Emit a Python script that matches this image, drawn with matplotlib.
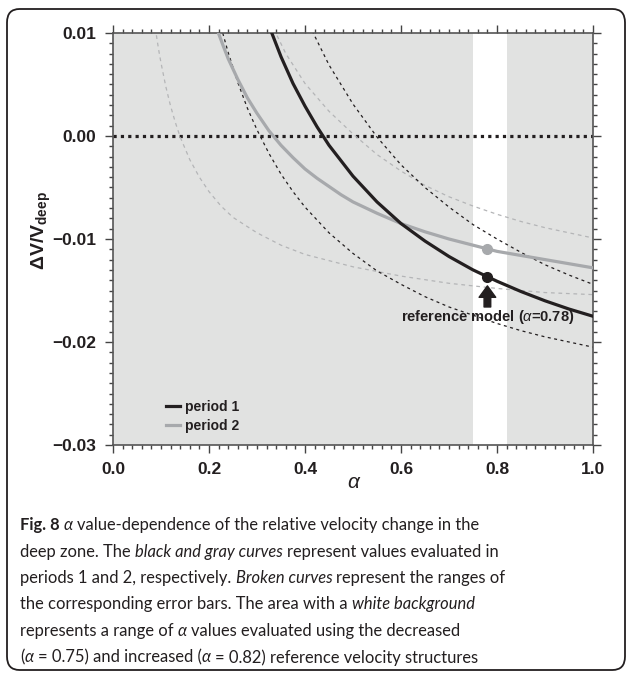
import matplotlib
matplotlib.use('Agg')
import matplotlib.pyplot as plt
from matplotlib import font_manager
from matplotlib.patches import FancyBboxPatch
from matplotlib.ticker import MultipleLocator

# period 1 (black) and period 2 (gray) curves
p1_alpha = [0.33, 0.35, 0.375, 0.40, 0.425, 0.45, 0.50, 0.55, 0.60, 0.65, 0.70, 0.75, 0.80, 0.85,
            0.90, 0.95, 1.00]
p1_dv = [0.0101, 0.0077, 0.0051, 0.0029, 0.0009, -0.0009, -0.0039, -0.0064, -0.0085, -0.0102,
         -0.0117, -0.0130, -0.0141, -0.0151, -0.0160, -0.0168, -0.0175]

p2_alpha = [0.218, 0.23, 0.24, 0.26, 0.28, 0.30, 0.325, 0.35, 0.375, 0.40, 0.425, 0.45, 0.475,
            0.50, 0.55, 0.60, 0.65, 0.70, 0.75, 0.80, 0.85, 0.90, 0.95, 1.00]
p2_dv = [0.0102, 0.0087, 0.0075, 0.0055, 0.0037, 0.0022, 0.0005, -0.0009, -0.0021, -0.0032,
         -0.0041, -0.0049, -0.0057, -0.0064, -0.0075, -0.0085, -0.0093, -0.0100, -0.0106,
         -0.0112, -0.0116, -0.0120, -0.0124, -0.0128]

# error-bar ranges (broken curves)
p1_lo_alpha = [0.225, 0.24, 0.26, 0.28, 0.30, 0.325, 0.35, 0.375, 0.40, 0.45, 0.50, 0.55, 0.60,
               0.65, 0.70, 0.75, 0.80, 0.85, 0.90, 0.95, 1.00]
p1_lo_dv = [0.0106, 0.0081, 0.0052, 0.0027, 0.0006, -0.0017, -0.0037, -0.0054, -0.0069, -0.0094,
            -0.0114, -0.0131, -0.0144, -0.0156, -0.0166, -0.0174, -0.0182, -0.0189, -0.0195,
            -0.0200, -0.0205]

p1_hi_alpha = [0.415, 0.45, 0.50, 0.55, 0.60, 0.65, 0.70, 0.75, 0.80, 0.85, 0.90, 0.95, 1.00]
p1_hi_dv = [0.0102, 0.0069, 0.0031, -0.0001, -0.0028, -0.0050, -0.0069, -0.0086, -0.0100, -0.0113,
            -0.0125, -0.0135, -0.0144]

p2_lo_alpha = [0.088, 0.095, 0.10, 0.11, 0.12, 0.13, 0.14, 0.16, 0.18, 0.20, 0.225, 0.25, 0.30,
               0.35, 0.40, 0.50, 0.60, 0.70, 0.80, 0.90, 1.00]
p2_lo_dv = [0.0105, 0.0084, 0.0071, 0.0048, 0.0029, 0.0013, -0.0001, -0.0023, -0.0040, -0.0054,
            -0.0068, -0.0079, -0.0094, -0.0106, -0.0115, -0.0127, -0.0136, -0.0143, -0.0148,
            -0.0152, -0.0154]

p2_hi_alpha = [0.335, 0.36, 0.40, 0.45, 0.50, 0.55, 0.60, 0.65, 0.70, 0.75, 0.80, 0.85, 0.90, 0.95, 1.00]
p2_hi_dv = [0.0104, 0.0080, 0.0051, 0.0024, 0.0002, -0.0018, -0.0034, -0.0048, -0.0059, -0.0068,
            -0.0076, -0.0083, -0.0089, -0.0094, -0.0099]

# reference model and the white band
ref_alpha = 0.78
ref_p1 = -0.0137
ref_p2 = -0.0110
band = (0.75, 0.82)

x_ticks = [0.0, 0.2, 0.4, 0.6, 0.8, 1.0]
x_ticklabels = ['0.0', '0.2', '0.4', '0.6', '0.8', '1.0']
y_ticks = [-0.03, -0.02, -0.01, 0.00, 0.01]
y_ticklabels = ['\u22120.03', '\u22120.02', '\u22120.01', '0.00', '0.01']

caption_lines = [
    [('b', 'Fig. 8'), ('i', ' α'), ('r', ' value-dependence of the relative velocity change in the')],
    [('r', 'deep zone. The '), ('i', 'black and gray curves'), ('r', ' represent values evaluated in')],
    [('r', 'periods 1 and 2, respectively. '), ('i', 'Broken curves'), ('r', ' represent the ranges of')],
    [('r', 'the corresponding error bars. The area with a '), ('i', 'white background')],
    [('r', 'represents a range of '), ('i', 'α'), ('r', ' values evaluated using the decreased')],
    [('r', '('), ('i', 'α'), ('r', ' = 0.75) and increased ('), ('i', 'α'),
     ('r', ' = 0.82) reference velocity structures')],
]

dark = '#231f20'
plt.rcParams['font.family'] = ['Liberation Sans', 'DejaVu Sans']
plt.rcParams['mathtext.fontset'] = 'custom'
plt.rcParams['mathtext.rm'] = 'Liberation Sans'
plt.rcParams['mathtext.it'] = 'Liberation Sans:italic'
plt.rcParams['mathtext.bf'] = 'Liberation Sans:bold'

W, H = 627, 676
fig = plt.figure(figsize=(W / 100, H / 100), dpi=100)
ax = fig.add_axes([113 / W, 1 - 445 / H, 480 / W, 412 / H])
ax.set_facecolor('#e1e2e1')
ax.axvspan(band[0], band[1], color='white', lw=0, zorder=0.5)

ax.axhline(0, color=dark, lw=2.3, linestyle=(0, (1.0, 1.3)), zorder=2)

dash_k = (0, (2.4, 2.8))
dash_g = (0, (3.0, 3.0))
ax.plot(p2_lo_alpha, p2_lo_dv, color='#b4b5b7', lw=0.9, linestyle=dash_g, zorder=2)
ax.plot(p2_hi_alpha, p2_hi_dv, color='#b4b5b7', lw=0.9, linestyle=dash_g, zorder=2)
ax.plot(p1_lo_alpha, p1_lo_dv, color=dark, lw=0.9, linestyle=dash_k, zorder=2)
ax.plot(p1_hi_alpha, p1_hi_dv, color=dark, lw=0.9, linestyle=dash_k, zorder=2)

ax.plot(p2_alpha, p2_dv, color='#a7a9ac', lw=2.3, label='period 2', zorder=3)
ax.plot(p1_alpha, p1_dv, color=dark, lw=2.3, label='period 1', zorder=4)
ax.plot([ref_alpha], [ref_p2], 'o', color='#a7a9ac', ms=7, zorder=5)
ax.plot([ref_alpha], [ref_p1], 'o', color=dark, ms=7, zorder=5)

ax.annotate('', xy=(ref_alpha, -0.01455), xytext=(ref_alpha, -0.0166),
            arrowprops=dict(arrowstyle='simple,head_length=0.55,head_width=0.8,tail_width=0.32',
                            color=dark, shrinkA=0, shrinkB=0, mutation_scale=15))
ax.text(ref_alpha, -0.0176, r'reference model ($\alpha$=0.78)', ha='center', va='center',
        fontsize=10.5, fontweight='bold', color=dark)

ax.set_xlim(0, 1)
ax.set_ylim(-0.03, 0.01)
ax.set_xticks(x_ticks)
ax.set_xticklabels(x_ticklabels)
ax.set_yticks(y_ticks)
ax.set_yticklabels(y_ticklabels)
ax.xaxis.set_minor_locator(MultipleLocator(0.02))
ax.yaxis.set_minor_locator(MultipleLocator(0.001))
ax.tick_params(which='both', direction='out', top=True, right=True, color='#444444', width=1.0)
ax.tick_params(which='major', length=6, pad=6, labelsize=12.5, labelcolor=dark)
ax.tick_params(which='minor', length=3)
ax.tick_params(labelright=False, labeltop=False)
for lab in ax.get_xticklabels() + ax.get_yticklabels():
    lab.set_fontweight('bold')
for sp in ax.spines.values():
    sp.set_color('#555555')
    sp.set_linewidth(1.2)

ax.set_ylabel(r'ΔV/V$_{\mathbf{deep}}$', fontsize=14, fontweight='bold', color=dark)
ax.yaxis.set_label_coords(-0.125, 0.52)
ax.set_xlabel('α', fontsize=15, fontstyle='italic', color=dark)
ax.xaxis.set_label_coords(0.5, -0.068)

handles, labels = ax.get_legend_handles_labels()
leg = ax.legend(handles[::-1], labels[::-1], loc='lower left', bbox_to_anchor=(0.110, 0.03),
                frameon=False, handlelength=1.0, handletextpad=0.4, borderpad=0,
                borderaxespad=0, labelspacing=0.35, prop={'weight': 'bold', 'size': 10})
for t in leg.get_texts():
    t.set_color(dark)

# rounded frame round the figure and caption
fig.patches.append(FancyBboxPatch((7 / W, 1 - 670 / H), 618 / W, 661 / H,
                                  boxstyle='round,pad=0,rounding_size=0.02',
                                  transform=fig.transFigure, fill=False, ec=dark, lw=1.3))

# caption, laid out piece by piece
names = {f.name for f in font_manager.fontManager.ttflist}
cap_font = 'Liberation Sans Narrow' if 'Liberation Sans Narrow' in names else 'Lato'
renderer = fig.canvas.get_renderer()
styles = {'r': ('normal', 'normal'), 'b': ('bold', 'normal'), 'i': ('normal', 'italic')}


def text_width(s, fs, kind):
    wt, st = styles[kind]
    t = fig.text(0, 0, s, fontfamily=cap_font, fontsize=fs, fontweight=wt, fontstyle=st)
    w = t.get_window_extent(renderer).width
    t.remove()
    return w


def caption_line(parts, x0, y, fs, draw=True):
    x = x0
    for kind, s in parts:
        wt, st = styles[kind]
        sp = text_width('n n', fs, kind) - text_width('nn', fs, kind)
        core = s.strip(' ')
        x += (len(s) - len(s.lstrip(' '))) * sp
        t = fig.text(x / W, 1 - y / H, core, fontfamily=cap_font, fontsize=fs, fontweight=wt,
                     fontstyle=st, va='baseline', ha='left', color=dark)
        x += t.get_window_extent(renderer).width
        if not draw:
            t.remove()
        x += (len(s) - len(s.rstrip(' '))) * sp
    return x - x0


fs = 12
w = caption_line(caption_lines[1], 20, 0, fs, draw=False)
fs = fs * 479 / w
baselines = [530, 556.5, 583, 609.5, 636, 662.5]
for parts, yb in zip(caption_lines, baselines):
    caption_line(parts, 20, yb, fs)

fig.savefig('out.png', dpi=100)
